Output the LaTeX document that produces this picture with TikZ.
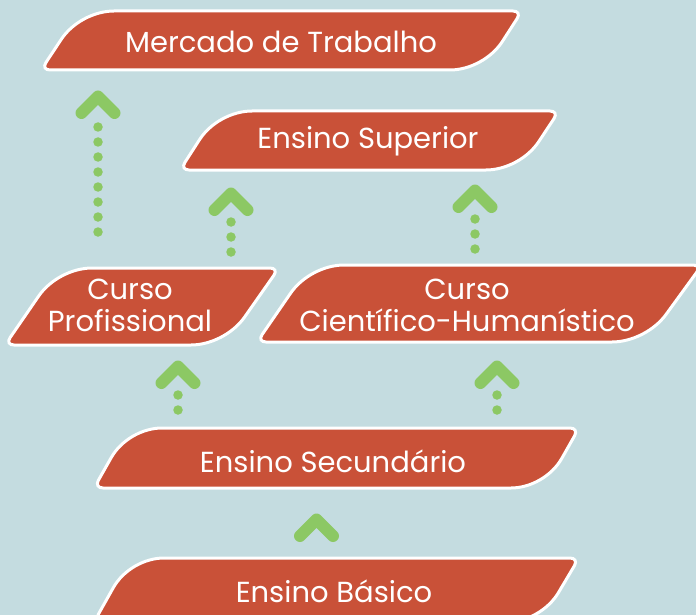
\documentclass[tikz,border=0pt]{standalone}
\usepackage{fontspec}
\setmainfont{Poppins}
\usetikzlibrary{calc}
\definecolor{bg}{HTML}{C4DCE0}
\definecolor{boxred}{HTML}{C95138}
\definecolor{grn}{HTML}{8CC864}
\tikzset{
  boxshape/.style={fill=boxred, draw=white, line width=3pt},
  lbl/.style={text=white, font=\fontsize{29}{32}\selectfont, align=center, inner sep=0pt},
  chev/.style={draw=grn, line width=12pt, line cap=round, line join=round},
  dotline/.style={draw=grn, line width=9.5pt, line cap=round, dash pattern=on 0pt off 15pt},
}
% #1 name, #2 bl x, #3 tl x, #4 tr x, #5 br x, #6 top y, #7 bottom y
\newcommand\slantbox[7]{%
  \coordinate (#1-bl) at (#2,#7);
  \coordinate (#1-tl) at (#3,#6);
  \coordinate (#1-tr) at (#4,#6);
  \coordinate (#1-br) at (#5,#7);
  \draw[boxshape]
    ($(#1-bl)!9pt!(#1-br)$) .. controls ($(#1-bl)!4pt!(#1-br)$) and ($(#1-bl)!4pt!(#1-tl)$) .. ($(#1-bl)!9pt!(#1-tl)$)
    -- ($(#1-tl)!34pt!(#1-bl)$) .. controls ($(#1-tl)!14pt!(#1-bl)$) and ($(#1-tl)!14pt!(#1-tr)$) .. ($(#1-tl)!34pt!(#1-tr)$)
    -- ($(#1-tr)!9pt!(#1-tl)$) .. controls ($(#1-tr)!4pt!(#1-tl)$) and ($(#1-tr)!4pt!(#1-br)$) .. ($(#1-tr)!9pt!(#1-br)$)
    -- ($(#1-br)!34pt!(#1-tr)$) .. controls ($(#1-br)!14pt!(#1-tr)$) and ($(#1-br)!14pt!(#1-bl)$) .. ($(#1-br)!34pt!(#1-bl)$)
    -- cycle;
}
% #1 x, #2 outer apex y
\newcommand\chevron[2]{%
  \draw[chev] ({#1-16.5},{#2+25}) -- (#1,{#2+8.5}) -- ({#1+16.5},{#2+25});
}
\begin{document}
\begin{tikzpicture}[x=1pt,y=-1pt]
\useasboundingbox (0,0) rectangle (696,615);
\fill[bg] (0,0) rectangle (696,615);

\slantbox{mt}{41}{80}{522}{484}{11}{70}
\slantbox{es}{180}{218}{559}{520}{111}{170}
\slantbox{cp}{5}{58}{279}{225}{268}{345}
\slantbox{cc}{257}{310}{702}{646}{265}{342}
\slantbox{sec}{94}{128}{579}{545}{428}{488}
\slantbox{bas}{94}{130}{579}{541}{558}{622}

\node[lbl] (mercado) at (281,42) {Mercado de Trabalho};
\node[lbl] (superior) at (368,141) {Ensino Superior};
\node[lbl] (profissional) at (130,305) {Curso\\Profissional};
\node[lbl] (cientifico) at (467,305) {Curso\\Científico-Humanístico};
\node[lbl] (secundario) at (333,461) {Ensino Secundário};
\node[lbl] (basico) at (334,591) {Ensino Básico};

% arrows
\coordinate (a1s) at (98,232); \coordinate (a1e) at (98,126.5);
\draw[dotline] (a1s) -- (a1e);
\chevron{98}{88}
\coordinate (a2s) at (231,252); \coordinate (a2e) at (231,221.5);
\draw[dotline] (a2s) -- (a2e);
\chevron{231}{185}
\coordinate (a3s) at (475,249); \coordinate (a3e) at (475,218.5);
\draw[dotline] (a3s) -- (a3e);
\chevron{475}{182}
\coordinate (a4s) at (178,410); \coordinate (a4e) at (178,394.5);
\draw[dotline] (a4s) -- (a4e);
\chevron{178}{358}
\coordinate (a5s) at (497,410); \coordinate (a5e) at (497,394.5);
\draw[dotline] (a5s) -- (a5e);
\chevron{497}{358}
\chevron{316.5}{511}
\end{tikzpicture}
\end{document}
